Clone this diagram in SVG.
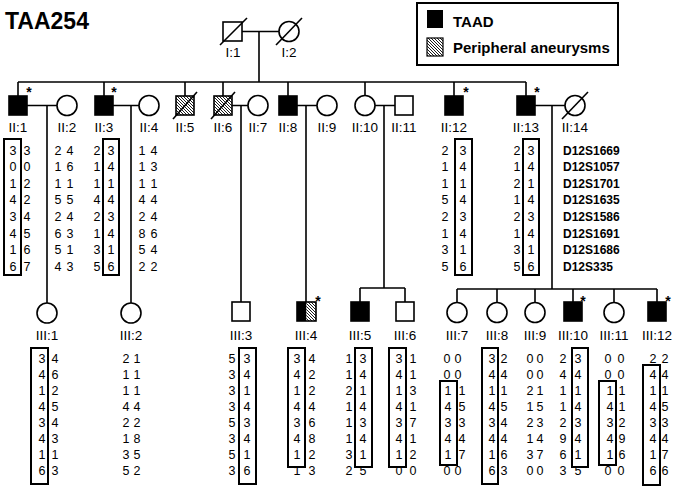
<svg xmlns="http://www.w3.org/2000/svg" width="675" height="488" viewBox="0 0 675 488">
<style>
.ln{stroke:#000;stroke-width:1.6;fill:none}
.sym{stroke:#000;stroke-width:1.6;fill:#fff}
.aff{stroke:#000;stroke-width:1.6;fill:#000}
.hat{stroke:#000;stroke-width:1.6;fill:url(#hatch)}
.lbl{font-family:"Liberation Sans",Arial,sans-serif;font-size:13.5px;text-anchor:middle}
.h{font-family:"Liberation Sans",Arial,sans-serif;font-size:12.5px;text-anchor:middle}
.box{fill:none;stroke:#000;stroke-width:2}
.mk{font-family:"Liberation Sans",Arial,sans-serif;font-size:12px;font-weight:bold}
.ast{font-family:"Liberation Sans",Arial,sans-serif;font-size:14px;font-weight:bold;text-anchor:middle}
.leg{font-family:"Liberation Sans",Arial,sans-serif;font-size:15px;font-weight:bold}
</style>
<defs>
<pattern id="hatch" patternUnits="userSpaceOnUse" width="3" height="3">
<rect width="3" height="3" fill="#fff"/>
<path d="M-1,-1 L4,4 M-1,2 L1,4 M2,-1 L4,1" stroke="#000" stroke-width="0.9"/>
</pattern>
</defs>
<rect width="675" height="488" fill="#fff"/>
<text x="5" y="29" font-family="Liberation Sans,Arial,sans-serif" font-size="23" font-weight="bold">TAA254</text>

<g id="legend">
<rect x="417" y="3" width="201" height="62" fill="#fff" stroke="#000" stroke-width="2"/>
<rect x="427" y="10" width="16" height="18" fill="#000"/>
<text class="leg" x="453" y="27">TAAD</text>
<rect x="427" y="38" width="16" height="18" fill="url(#hatch)" stroke="#000" stroke-width="1.2"/>
<text class="leg" x="453" y="53">Peripheral aneurysms</text>
</g>

<g id="connectors">
<path class="ln" d="M242,31.5 H279 M259,31.5 V82"/>
<path class="ln" d="M18,82 H526 M18,82 V96 M104,82 V96 M185,82 V96 M223,82 V96 M288,82 V96 M365,82 V95.5 M454,82 V96 M526,82 V96"/>
<path class="ln" d="M27,105.5 H57 M47,105.5 V303"/>
<path class="ln" d="M113,105.5 H139 M131,105.5 V303"/>
<path class="ln" d="M232,105.5 H248 M241,105.5 V302"/>
<path class="ln" d="M297,105.5 H317 M306,105.5 V302"/>
<path class="ln" d="M375,105.5 H395 M384,105.5 V288 M360,288 H405 M360,288 V302 M405,288 V302"/>
<path class="ln" d="M535,105.5 H565 M552,105.5 V289 M457,289 H657 M457,289 V302.5 M497,289 V302.5 M535,289 V302.5 M573,289 V302 M614,289 V302.5 M657,289 V302"/>
</g>

<g id="I1">
<rect class="sym" x="223" y="22" width="19" height="19"/>
<path class="ln" d="M220,45 L247,18"/>
<text class="lbl" x="233" y="57">I:1</text>
</g>
<g id="I2">
<circle class="sym" cx="289" cy="31.5" r="10"/>
<path class="ln" d="M276,45 L302,18"/>
<text class="lbl" x="289" y="57">I:2</text>
</g>

<g id="II1">
<rect class="aff" x="9" y="96" width="18" height="19"/>
<text class="ast" x="29" y="97">*</text>
<text class="lbl" x="18" y="132">II:1</text>
<rect class="box" x="4" y="139" width="17" height="136"/>
<text class="h"><tspan x="13" y="154.5">3</tspan><tspan x="13" y="171.1">0</tspan><tspan x="13" y="187.7">1</tspan><tspan x="13" y="204.3">4</tspan><tspan x="13" y="220.9">3</tspan><tspan x="13" y="237.5">4</tspan><tspan x="13" y="254.1">1</tspan><tspan x="13" y="270.7">6</tspan></text>
<text class="h"><tspan x="27" y="154.5">3</tspan><tspan x="27" y="171.1">0</tspan><tspan x="27" y="187.7">2</tspan><tspan x="27" y="204.3">2</tspan><tspan x="27" y="220.9">4</tspan><tspan x="27" y="237.5">5</tspan><tspan x="27" y="254.1">6</tspan><tspan x="27" y="270.7">7</tspan></text>
</g>
<g id="II2">
<circle class="sym" cx="67" cy="105.5" r="10"/>
<text class="lbl" x="67" y="132">II:2</text>
<text class="h"><tspan x="58" y="154.5">2</tspan><tspan x="58" y="171.1">1</tspan><tspan x="58" y="187.7">1</tspan><tspan x="58" y="204.3">5</tspan><tspan x="58" y="220.9">2</tspan><tspan x="58" y="237.5">6</tspan><tspan x="58" y="254.1">5</tspan><tspan x="58" y="270.7">4</tspan></text>
<text class="h"><tspan x="70" y="154.5">4</tspan><tspan x="70" y="171.1">6</tspan><tspan x="70" y="187.7">1</tspan><tspan x="70" y="204.3">5</tspan><tspan x="70" y="220.9">4</tspan><tspan x="70" y="237.5">3</tspan><tspan x="70" y="254.1">1</tspan><tspan x="70" y="270.7">3</tspan></text>
</g>
<g id="II3">
<rect class="aff" x="95" y="96" width="18" height="19"/>
<text class="ast" x="114" y="97">*</text>
<text class="lbl" x="104" y="132">II:3</text>
<rect class="box" x="103" y="139" width="16" height="136"/>
<text class="h"><tspan x="97" y="154.5">2</tspan><tspan x="97" y="171.1">1</tspan><tspan x="97" y="187.7">1</tspan><tspan x="97" y="204.3">4</tspan><tspan x="97" y="220.9">2</tspan><tspan x="97" y="237.5">1</tspan><tspan x="97" y="254.1">3</tspan><tspan x="97" y="270.7">5</tspan></text>
<text class="h"><tspan x="111" y="154.5">3</tspan><tspan x="111" y="171.1">4</tspan><tspan x="111" y="187.7">1</tspan><tspan x="111" y="204.3">4</tspan><tspan x="111" y="220.9">3</tspan><tspan x="111" y="237.5">4</tspan><tspan x="111" y="254.1">1</tspan><tspan x="111" y="270.7">6</tspan></text>
</g>
<g id="II4">
<circle class="sym" cx="149" cy="105.5" r="10"/>
<text class="lbl" x="149" y="132">II:4</text>
<text class="h"><tspan x="142" y="154.5">1</tspan><tspan x="142" y="171.1">1</tspan><tspan x="142" y="187.7">1</tspan><tspan x="142" y="204.3">4</tspan><tspan x="142" y="220.9">2</tspan><tspan x="142" y="237.5">8</tspan><tspan x="142" y="254.1">5</tspan><tspan x="142" y="270.7">2</tspan></text>
<text class="h"><tspan x="154" y="154.5">4</tspan><tspan x="154" y="171.1">3</tspan><tspan x="154" y="187.7">1</tspan><tspan x="154" y="204.3">4</tspan><tspan x="154" y="220.9">4</tspan><tspan x="154" y="237.5">6</tspan><tspan x="154" y="254.1">4</tspan><tspan x="154" y="270.7">2</tspan></text>
</g>
<g id="II5">
<rect class="hat" x="176" y="96" width="18" height="19"/>
<path class="ln" d="M173,119 L197,92"/>
<text class="lbl" x="185" y="132">II:5</text>
</g>
<g id="II6">
<rect class="hat" x="214" y="96" width="18" height="19"/>
<path class="ln" d="M211,119 L235,92"/>
<text class="lbl" x="223" y="132">II:6</text>
</g>
<g id="II7">
<circle class="sym" cx="258" cy="105.5" r="10"/>
<text class="lbl" x="258" y="132">II:7</text>
</g>
<g id="II8">
<rect class="aff" x="279" y="96" width="18" height="19"/>
<text class="lbl" x="288" y="132">II:8</text>
</g>
<g id="II9">
<circle class="sym" cx="327" cy="105.5" r="10"/>
<text class="lbl" x="327" y="132">II:9</text>
</g>
<g id="II10">
<circle class="sym" cx="365" cy="105.5" r="10"/>
<text class="lbl" x="365" y="132">II:10</text>
</g>
<g id="II11">
<rect class="sym" x="395" y="96" width="18" height="19"/>
<text class="lbl" x="404" y="132">II:11</text>
</g>
<g id="II12">
<rect class="aff" x="445" y="96" width="18" height="19"/>
<text class="ast" x="466" y="97">*</text>
<text class="lbl" x="454" y="132">II:12</text>
<rect class="box" x="455" y="139" width="17" height="136"/>
<text class="h"><tspan x="445" y="154.5">2</tspan><tspan x="445" y="171.1">1</tspan><tspan x="445" y="187.7">1</tspan><tspan x="445" y="204.3">5</tspan><tspan x="445" y="220.9">2</tspan><tspan x="445" y="237.5">1</tspan><tspan x="445" y="254.1">3</tspan><tspan x="445" y="270.7">5</tspan></text>
<text class="h"><tspan x="463" y="154.5">3</tspan><tspan x="463" y="171.1">4</tspan><tspan x="463" y="187.7">1</tspan><tspan x="463" y="204.3">4</tspan><tspan x="463" y="220.9">3</tspan><tspan x="463" y="237.5">4</tspan><tspan x="463" y="254.1">1</tspan><tspan x="463" y="270.7">6</tspan></text>
</g>
<g id="II13">
<rect class="aff" x="517" y="96" width="18" height="19"/>
<text class="ast" x="537" y="97">*</text>
<text class="lbl" x="526" y="132">II:13</text>
<rect class="box" x="523" y="139" width="16" height="136"/>
<text class="h"><tspan x="517" y="154.5">2</tspan><tspan x="517" y="171.1">1</tspan><tspan x="517" y="187.7">2</tspan><tspan x="517" y="204.3">1</tspan><tspan x="517" y="220.9">2</tspan><tspan x="517" y="237.5">1</tspan><tspan x="517" y="254.1">3</tspan><tspan x="517" y="270.7">5</tspan></text>
<text class="h"><tspan x="531" y="154.5">3</tspan><tspan x="531" y="171.1">4</tspan><tspan x="531" y="187.7">1</tspan><tspan x="531" y="204.3">4</tspan><tspan x="531" y="220.9">3</tspan><tspan x="531" y="237.5">4</tspan><tspan x="531" y="254.1">1</tspan><tspan x="531" y="270.7">6</tspan></text>
</g>
<g id="II14">
<circle class="sym" cx="575" cy="105.5" r="10"/>
<path class="ln" d="M562,119 L588,92"/>
<text class="lbl" x="575" y="132">II:14</text>
</g>

<g id="markers">
<text class="mk"><tspan x="563" y="154.5">D12S1669</tspan><tspan x="563" y="171.1">D12S1057</tspan><tspan x="563" y="187.7">D12S1701</tspan><tspan x="563" y="204.3">D12S1635</tspan><tspan x="563" y="220.9">D12S1586</tspan><tspan x="563" y="237.5">D12S1691</tspan><tspan x="563" y="254.1">D12S1686</tspan><tspan x="563" y="270.7">D12S335</tspan></text>
</g>

<g id="III1">
<circle class="sym" cx="47" cy="313" r="10"/>
<text class="lbl" x="47" y="340">III:1</text>
<rect class="box" x="31" y="348" width="17" height="136"/>
<text class="h"><tspan x="42" y="362.5">3</tspan><tspan x="42" y="378.6">4</tspan><tspan x="42" y="394.7">1</tspan><tspan x="42" y="410.8">4</tspan><tspan x="42" y="426.9">3</tspan><tspan x="42" y="443">4</tspan><tspan x="42" y="459.1">1</tspan><tspan x="42" y="475.2">6</tspan></text>
<text class="h"><tspan x="55" y="362.5">4</tspan><tspan x="55" y="378.6">6</tspan><tspan x="55" y="394.7">2</tspan><tspan x="55" y="410.8">5</tspan><tspan x="55" y="426.9">4</tspan><tspan x="55" y="443">3</tspan><tspan x="55" y="459.1">1</tspan><tspan x="55" y="475.2">3</tspan></text>
</g>
<g id="III2">
<circle class="sym" cx="131" cy="313" r="10"/>
<text class="lbl" x="131" y="340">III:2</text>
<text class="h"><tspan x="126" y="362.5">2</tspan><tspan x="126" y="378.6">1</tspan><tspan x="126" y="394.7">1</tspan><tspan x="126" y="410.8">4</tspan><tspan x="126" y="426.9">2</tspan><tspan x="126" y="443">1</tspan><tspan x="126" y="459.1">3</tspan><tspan x="126" y="475.2">5</tspan></text>
<text class="h"><tspan x="137" y="362.5">1</tspan><tspan x="137" y="378.6">1</tspan><tspan x="137" y="394.7">1</tspan><tspan x="137" y="410.8">4</tspan><tspan x="137" y="426.9">2</tspan><tspan x="137" y="443">8</tspan><tspan x="137" y="459.1">5</tspan><tspan x="137" y="475.2">2</tspan></text>
</g>
<g id="III3">
<rect class="sym" x="232" y="302" width="18" height="19"/>
<text class="lbl" x="241" y="340">III:3</text>
<rect class="box" x="239" y="348" width="17" height="136"/>
<text class="h"><tspan x="232" y="362.5">5</tspan><tspan x="232" y="378.6">3</tspan><tspan x="232" y="394.7">3</tspan><tspan x="232" y="410.8">3</tspan><tspan x="232" y="426.9">5</tspan><tspan x="232" y="443">3</tspan><tspan x="232" y="459.1">5</tspan><tspan x="232" y="475.2">3</tspan></text>
<text class="h"><tspan x="247" y="362.5">3</tspan><tspan x="247" y="378.6">4</tspan><tspan x="247" y="394.7">1</tspan><tspan x="247" y="410.8">4</tspan><tspan x="247" y="426.9">3</tspan><tspan x="247" y="443">4</tspan><tspan x="247" y="459.1">1</tspan><tspan x="247" y="475.2">6</tspan></text>
</g>
<g id="III4">
<rect x="297" y="302" width="9.5" height="19" fill="#000"/>
<rect x="306.5" y="302" width="9.5" height="19" fill="url(#hatch)"/>
<rect x="297" y="302" width="19" height="19" fill="none" stroke="#000" stroke-width="1.6"/>
<text class="ast" x="318" y="306">*</text>
<text class="lbl" x="306" y="340">III:4</text>
<rect class="box" x="288" y="348" width="17" height="119"/>
<text class="h"><tspan x="297" y="362.5">3</tspan><tspan x="297" y="378.6">4</tspan><tspan x="297" y="394.7">1</tspan><tspan x="297" y="410.8">4</tspan><tspan x="297" y="426.9">3</tspan><tspan x="297" y="443">4</tspan><tspan x="297" y="459.1">1</tspan><tspan x="297" y="475.2">1</tspan></text>
<text class="h"><tspan x="312" y="362.5">4</tspan><tspan x="312" y="378.6">2</tspan><tspan x="312" y="394.7">2</tspan><tspan x="312" y="410.8">4</tspan><tspan x="312" y="426.9">6</tspan><tspan x="312" y="443">8</tspan><tspan x="312" y="459.1">2</tspan><tspan x="312" y="475.2">3</tspan></text>
</g>
<g id="III5">
<rect class="aff" x="351" y="302" width="18" height="19"/>
<text class="lbl" x="360" y="340">III:5</text>
<rect class="box" x="355" y="348" width="17" height="119"/>
<text class="h"><tspan x="349" y="362.5">1</tspan><tspan x="349" y="378.6">1</tspan><tspan x="349" y="394.7">2</tspan><tspan x="349" y="410.8">1</tspan><tspan x="349" y="426.9">1</tspan><tspan x="349" y="443">1</tspan><tspan x="349" y="459.1">3</tspan><tspan x="349" y="475.2">2</tspan></text>
<text class="h"><tspan x="363" y="362.5">3</tspan><tspan x="363" y="378.6">4</tspan><tspan x="363" y="394.7">1</tspan><tspan x="363" y="410.8">4</tspan><tspan x="363" y="426.9">3</tspan><tspan x="363" y="443">4</tspan><tspan x="363" y="459.1">1</tspan><tspan x="363" y="475.2">5</tspan></text>
</g>
<g id="III6">
<rect class="sym" x="396" y="302" width="18" height="19"/>
<text class="lbl" x="405" y="340">III:6</text>
<rect class="box" x="389" y="348" width="17" height="119"/>
<text class="h"><tspan x="399" y="362.5">3</tspan><tspan x="399" y="378.6">4</tspan><tspan x="399" y="394.7">1</tspan><tspan x="399" y="410.8">4</tspan><tspan x="399" y="426.9">3</tspan><tspan x="399" y="443">4</tspan><tspan x="399" y="459.1">1</tspan><tspan x="399" y="475.2">0</tspan></text>
<text class="h"><tspan x="413" y="362.5">1</tspan><tspan x="413" y="378.6">1</tspan><tspan x="413" y="394.7">3</tspan><tspan x="413" y="410.8">1</tspan><tspan x="413" y="426.9">7</tspan><tspan x="413" y="443">1</tspan><tspan x="413" y="459.1">2</tspan><tspan x="413" y="475.2">0</tspan></text>
</g>
<g id="III7">
<circle class="sym" cx="457" cy="312.5" r="10"/>
<text class="lbl" x="457" y="340">III:7</text>
<rect class="box" x="440" y="381" width="17" height="84"/>
<text class="h"><tspan x="447" y="362.5">0</tspan><tspan x="447" y="378.6">0</tspan><tspan x="448" y="394.7">1</tspan><tspan x="448" y="410.8">4</tspan><tspan x="448" y="426.9">3</tspan><tspan x="448" y="443">4</tspan><tspan x="448" y="459.1">1</tspan><tspan x="447" y="475.2">0</tspan></text>
<text class="h"><tspan x="458" y="362.5">0</tspan><tspan x="458" y="378.6">0</tspan><tspan x="462" y="394.7">1</tspan><tspan x="462" y="410.8">5</tspan><tspan x="462" y="426.9">3</tspan><tspan x="462" y="443">4</tspan><tspan x="462" y="459.1">7</tspan><tspan x="458" y="475.2">0</tspan></text>
</g>
<g id="III8">
<circle class="sym" cx="497" cy="312.5" r="10"/>
<text class="lbl" x="497" y="340">III:8</text>
<rect class="box" x="482" y="348" width="16" height="136"/>
<text class="h"><tspan x="492" y="362.5">3</tspan><tspan x="492" y="378.6">4</tspan><tspan x="492" y="394.7">1</tspan><tspan x="492" y="410.8">4</tspan><tspan x="492" y="426.9">3</tspan><tspan x="492" y="443">4</tspan><tspan x="492" y="459.1">1</tspan><tspan x="492" y="475.2">6</tspan></text>
<text class="h"><tspan x="504" y="362.5">2</tspan><tspan x="504" y="378.6">4</tspan><tspan x="504" y="394.7">1</tspan><tspan x="504" y="410.8">5</tspan><tspan x="504" y="426.9">4</tspan><tspan x="504" y="443">4</tspan><tspan x="504" y="459.1">6</tspan><tspan x="504" y="475.2">3</tspan></text>
</g>
<g id="III9">
<circle class="sym" cx="535" cy="312.5" r="10"/>
<text class="lbl" x="535" y="340">III:9</text>
<text class="h"><tspan x="530" y="362.5">0</tspan><tspan x="530" y="378.6">0</tspan><tspan x="530" y="394.7">2</tspan><tspan x="530" y="410.8">1</tspan><tspan x="530" y="426.9">2</tspan><tspan x="530" y="443">1</tspan><tspan x="530" y="459.1">3</tspan><tspan x="530" y="475.2">0</tspan></text>
<text class="h"><tspan x="540" y="362.5">0</tspan><tspan x="540" y="378.6">0</tspan><tspan x="540" y="394.7">1</tspan><tspan x="540" y="410.8">5</tspan><tspan x="540" y="426.9">3</tspan><tspan x="540" y="443">4</tspan><tspan x="540" y="459.1">7</tspan><tspan x="540" y="475.2">0</tspan></text>
</g>
<g id="III10">
<rect class="aff" x="564" y="302" width="18" height="19"/>
<text class="ast" x="583" y="306">*</text>
<text class="lbl" x="573" y="340">III:10</text>
<rect class="box" x="572" y="348" width="16" height="119"/>
<text class="h"><tspan x="563" y="362.5">2</tspan><tspan x="563" y="378.6">4</tspan><tspan x="563" y="394.7">1</tspan><tspan x="563" y="410.8">1</tspan><tspan x="563" y="426.9">2</tspan><tspan x="563" y="443">9</tspan><tspan x="563" y="459.1">6</tspan><tspan x="563" y="475.2">3</tspan></text>
<text class="h"><tspan x="578" y="362.5">3</tspan><tspan x="578" y="378.6">4</tspan><tspan x="578" y="394.7">1</tspan><tspan x="578" y="410.8">4</tspan><tspan x="578" y="426.9">3</tspan><tspan x="578" y="443">4</tspan><tspan x="578" y="459.1">1</tspan><tspan x="578" y="475.2">5</tspan></text>
</g>
<g id="III11">
<circle class="sym" cx="614" cy="312.5" r="10"/>
<text class="lbl" x="614" y="340">III:11</text>
<rect class="box" x="599" y="381" width="17" height="84"/>
<text class="h"><tspan x="608" y="362.5">0</tspan><tspan x="608" y="378.6">0</tspan><tspan x="610" y="394.7">1</tspan><tspan x="610" y="410.8">4</tspan><tspan x="610" y="426.9">3</tspan><tspan x="610" y="443">4</tspan><tspan x="610" y="459.1">1</tspan><tspan x="608" y="475.2">0</tspan></text>
<text class="h"><tspan x="621" y="362.5">0</tspan><tspan x="621" y="378.6">0</tspan><tspan x="622" y="394.7">1</tspan><tspan x="622" y="410.8">1</tspan><tspan x="622" y="426.9">2</tspan><tspan x="622" y="443">9</tspan><tspan x="622" y="459.1">6</tspan><tspan x="621" y="475.2">0</tspan></text>
</g>
<g id="III12">
<rect class="aff" x="648" y="302" width="18" height="19"/>
<text class="ast" x="668" y="306">*</text>
<text class="lbl" x="657" y="340">III:12</text>
<rect class="box" x="643" y="365" width="17" height="120"/>
<text class="h"><tspan x="653" y="362.5">2</tspan><tspan x="653" y="378.6">4</tspan><tspan x="653" y="394.7">1</tspan><tspan x="653" y="410.8">4</tspan><tspan x="653" y="426.9">3</tspan><tspan x="653" y="443">4</tspan><tspan x="653" y="459.1">1</tspan><tspan x="653" y="475.2">6</tspan></text>
<text class="h"><tspan x="665" y="362.5">2</tspan><tspan x="665" y="378.6">4</tspan><tspan x="665" y="394.7">1</tspan><tspan x="665" y="410.8">5</tspan><tspan x="665" y="426.9">3</tspan><tspan x="665" y="443">4</tspan><tspan x="665" y="459.1">7</tspan><tspan x="665" y="475.2">6</tspan></text>
</g>
</svg>
